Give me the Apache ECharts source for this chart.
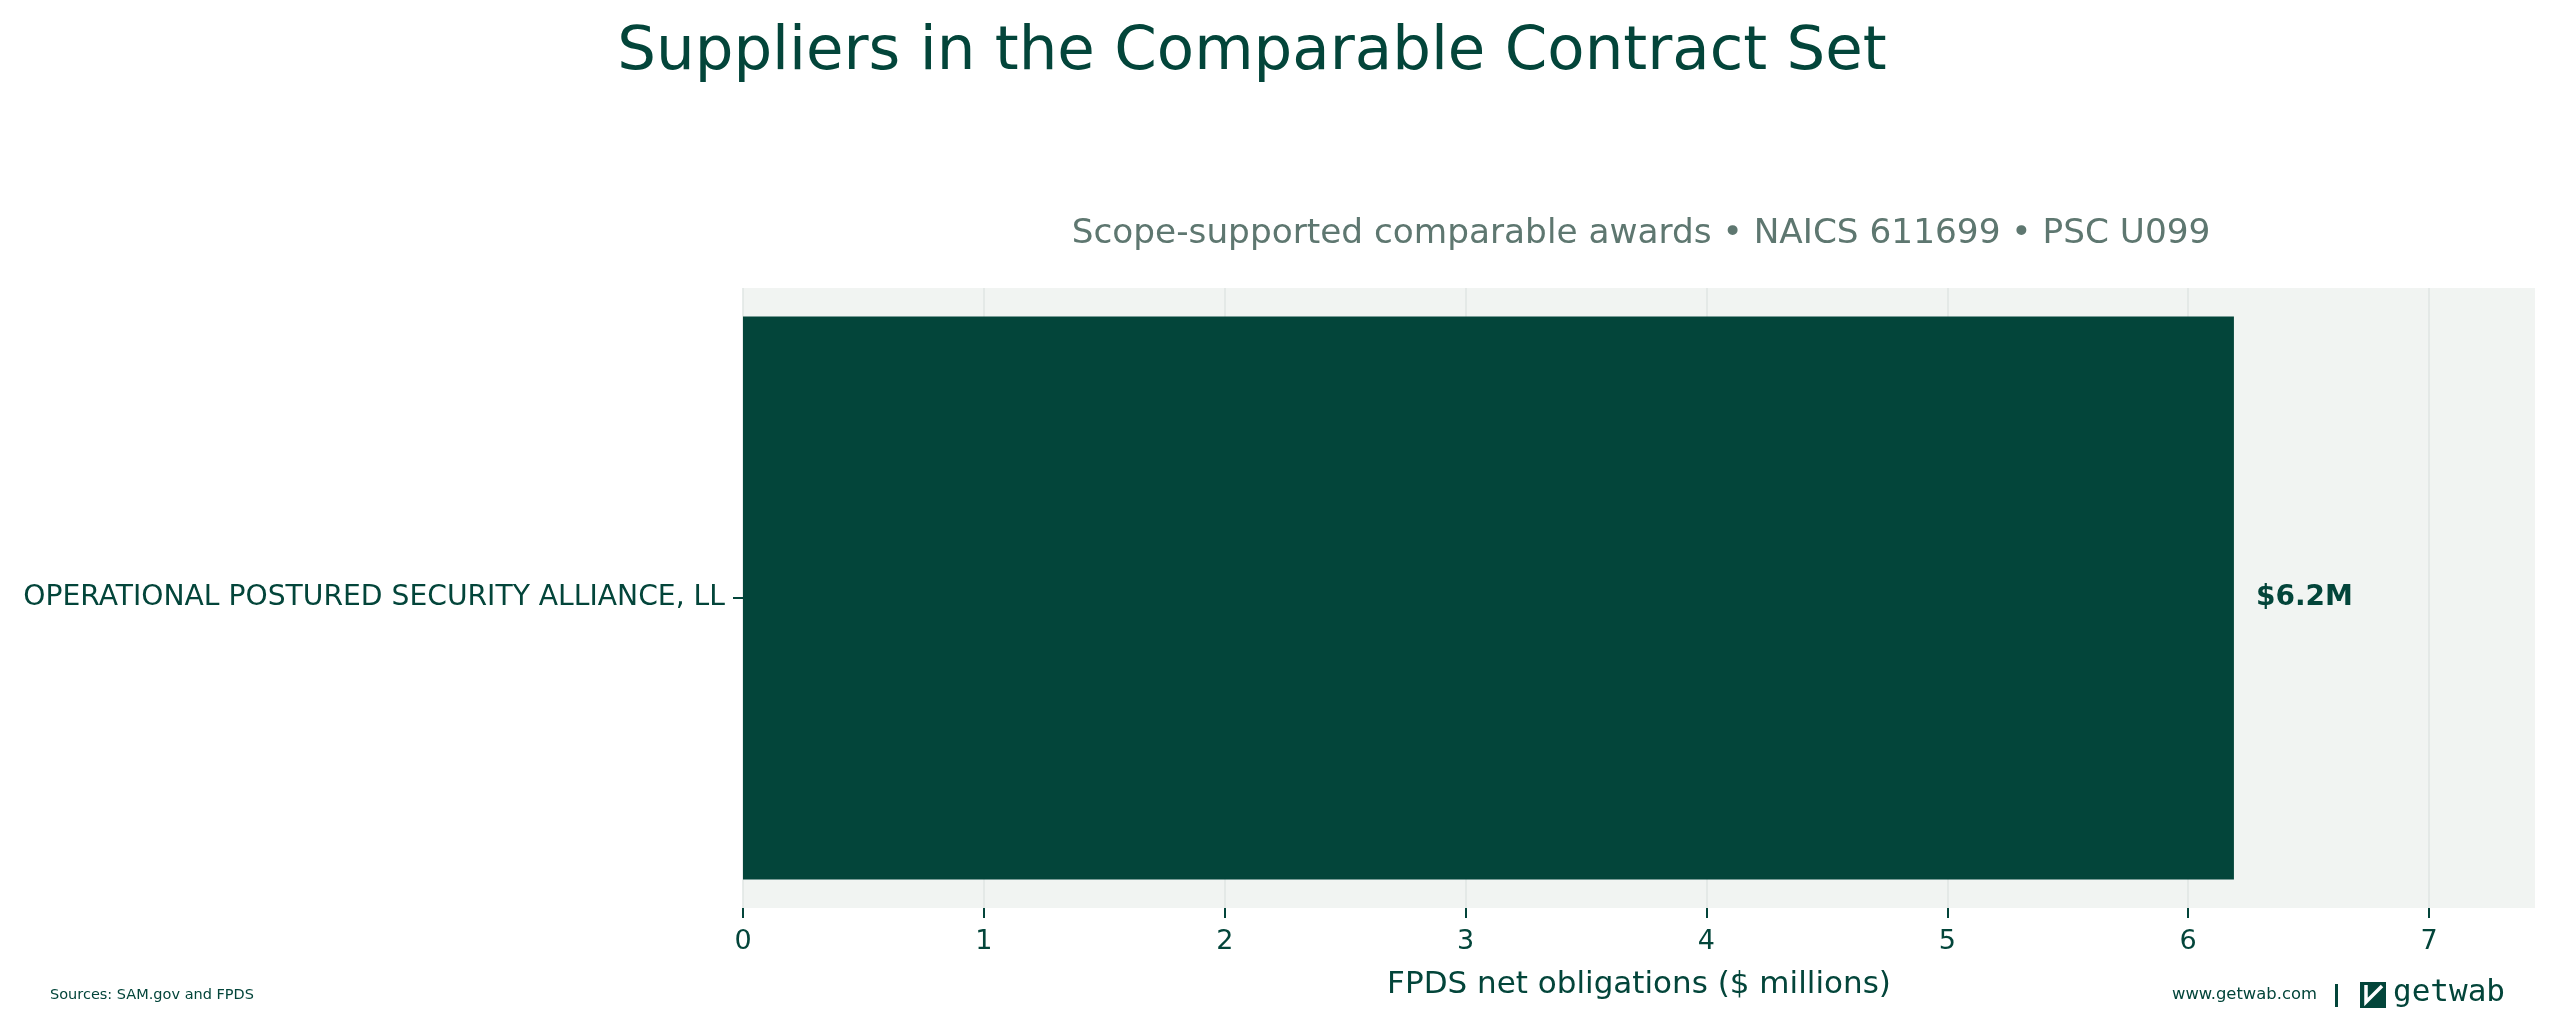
<!DOCTYPE html>
<html>
<head>
<meta charset="utf-8">
<script src="https://cdn.jsdelivr.net/npm/echarts@6/dist/echarts.min.js"></script>
<style>
  html, body { margin: 0; padding: 0; background: #ffffff; }
  #chart { width: 2556px; height: 1022px; }
</style>
</head>
<body>
<div id="chart"></div>
<script>
var suppliers = ['OPERATIONAL POSTURED SECURITY ALLIANCE, LL'];
var obligations = [6.19];
var valueLabels = ['$6.2M'];
var xTicks = [0, 1, 2, 3, 4, 5, 6, 7];
var xMax = 7.44;

var dark = '#03453a';
var font = 'DejaVu Sans';

var chart = echarts.init(document.getElementById('chart'), null, {renderer: 'canvas'});

var option = {
    backgroundColor: '#ffffff',
    animation: false,
    textStyle: {fontFamily: font, color: dark},
    title: [{
        text: 'Suppliers in the Comparable Contract Set',
        left: 1247, top: 18, textAlign: 'center',
        textStyle: {fontFamily: font, fontSize: 61, fontWeight: 'normal', color: dark}
    }, {
        text: 'Scope-supported comparable awards \u2022 NAICS 611699 \u2022 PSC U099',
        left: 1636, top: 212, textAlign: 'center',
        textStyle: {fontFamily: font, fontSize: 34.3, fontWeight: 'normal', color: '#5e7770'}
    }],
    grid: {
        left: 743, right: 21, top: 288, bottom: 114,
        show: true, backgroundColor: '#f1f4f2', borderWidth: 0
    },
    xAxis: {
        type: 'value', min: 0, max: xMax, interval: 1,
        name: 'FPDS net obligations ($ millions)',
        nameLocation: 'middle', nameGap: 61,
        nameTextStyle: {fontFamily: font, fontSize: 31, color: dark},
        axisLine: {show: false},
        axisTick: {show: true, length: 10, lineStyle: {color: dark, width: 2}, customValues: xTicks},
        axisLabel: {fontFamily: font, fontSize: 27, color: dark, margin: 20, customValues: xTicks},
        splitLine: {show: true, lineStyle: {color: '#dfe6e3', width: 1.5}}
    },
    yAxis: {
        type: 'category', data: suppliers,
        axisLine: {show: false},
        axisTick: {show: true, length: 10, alignWithLabel: true, lineStyle: {color: dark, width: 2}},
        axisLabel: {fontFamily: font, fontSize: 28.2, color: dark, margin: 18},
        splitLine: {show: false}
    },
    series: [{
        type: 'bar',
        data: obligations,
        barWidth: '90.8%',
        itemStyle: {color: dark},
        label: {
            show: true, position: 'right', distance: 22,
            formatter: function (p) { return valueLabels[p.dataIndex]; },
            fontFamily: font, fontSize: 28, fontWeight: 'bold', color: dark
        }
    }],
    graphic: [{
        type: 'text', left: 50, top: 988,
        style: {text: 'Sources: SAM.gov and FPDS', fontFamily: font, fontSize: 14.5, fill: dark}
    }, {
        type: 'text', left: 2172, top: 987,
        style: {text: 'www.getwab.com', fontFamily: font, fontSize: 16.4, fill: dark}
    }, {
        type: 'rect', shape: {x: 2335, y: 984, width: 3, height: 23}, style: {fill: dark}
    }, {
        type: 'rect', shape: {x: 2360, y: 982, width: 26, height: 26}, style: {fill: dark}
    }, {
        type: 'polyline', shape: {points: [[2366, 985], [2366, 1002], [2382, 986]]},
        style: {stroke: '#ffffff', lineWidth: 3.5, fill: null}
    }, {
        type: 'text', left: 2393, top: 977,
        style: {text: 'getwab', fontFamily: 'DejaVu Sans Mono', fontSize: 31, fill: dark}
    }]
};

chart.setOption(option);
</script>
</body>
</html>
